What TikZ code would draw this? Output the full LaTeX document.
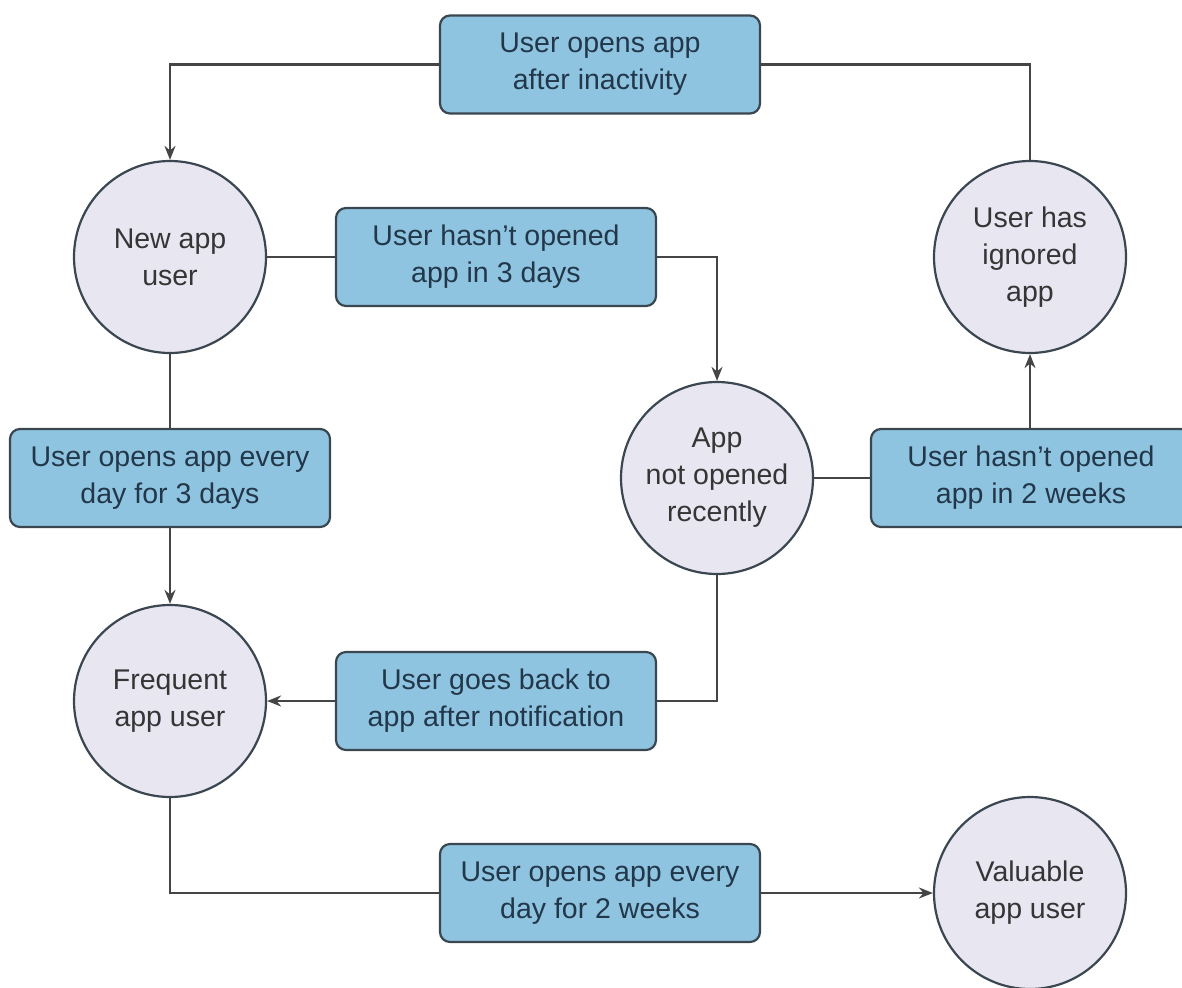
\documentclass[tikz,border=0pt]{standalone}
\usepackage{fontspec}
\setmainfont{Liberation Sans}
\usetikzlibrary{arrows.meta}

\definecolor{statefill}{HTML}{E8E6F1}
\definecolor{eventfill}{HTML}{8FC4E0}
\definecolor{edgecol}{HTML}{3B4750}
\definecolor{linecol}{HTML}{454545}
\definecolor{eventtext}{HTML}{22374A}
\definecolor{statetext}{HTML}{353535}

\begin{document}
\begin{tikzpicture}[x=1pt,y=-1pt,
  labelfont/.style={font=\fontsize{28.5}{37}\selectfont},
  state/.style={circle, draw=edgecol, fill=statefill, line width=2.2pt,
    minimum size=192pt, inner sep=0pt, align=center, text=statetext, labelfont},
  event/.style={rectangle, rounded corners=10pt, draw=edgecol, fill=eventfill,
    line width=2.2pt, minimum width=320pt, minimum height=98pt, inner sep=0pt,
    align=center, text=eventtext, labelfont},
  link/.style={draw=linecol, line width=2.1pt},
  arr/.style={link, -{Stealth[length=14pt,width=11pt]}}]

\useasboundingbox (0,0) rectangle (1182,987);
\clip (0,0) rectangle (1182,987);

% states
\node[state] (new)      at (170,257)  {New app\\user};
\node[state] (freq)     at (170,701)  {Frequent\\app user};
\node[state] (idle)     at (717,478)  {App\\not opened\\recently};
\node[state] (ignored)  at (1030,257) {User has\\ignored\\app};
\node[state] (valuable) at (1030,893) {Valuable\\app user};

% events
\node[event] (reopen)  at (600,64.5)  {User opens app\\after inactivity};
\node[event] (miss3)   at (496,257)   {User hasn’t opened\\app in 3 days};
\node[event] (daily3)  at (170,478)   {User opens app every\\day for 3 days};
\node[event] (miss14)  at (1031,478)  {User hasn’t opened\\app in 2 weeks};
\node[event] (notify)  at (496,701)   {User goes back to\\app after notification};
\node[event] (daily14) at (600,893)   {User opens app every\\day for 2 weeks};

% transitions
\draw[arr]  (reopen.west) -| (new.north);
\draw[link] (reopen.east) -| (ignored.north);

\draw[link] (new.east) -- (miss3.west);
\draw[arr]  (miss3.east) -| (idle.north);

\draw[link] (new.south) -- (daily3.north);
\draw[arr]  (daily3.south) -- (freq.north);

\draw[link] (idle.east) -- (miss14.west |- idle.east);
\draw[arr]  (miss14.north -| ignored.south) -- (ignored.south);

\draw[link] (idle.south) |- (notify.east);
\draw[arr]  (notify.west) -- (freq.east);

\draw[link] (freq.south) |- (daily14.west);
\draw[arr]  (daily14.east) -- (valuable.west);
\end{tikzpicture}
\end{document}
